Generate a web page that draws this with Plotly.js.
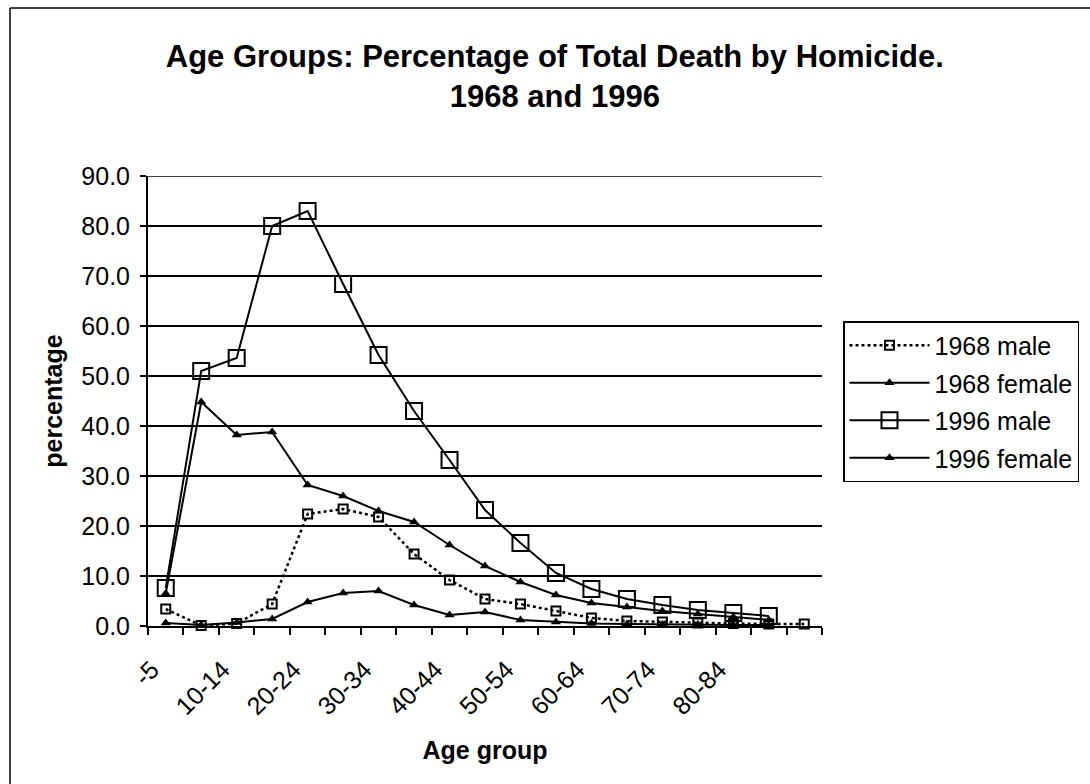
<!DOCTYPE html>
<html>
<head>
<meta charset="utf-8">
<script src="https://cdn.plot.ly/plotly-3.0.1.min.js"></script>
<style>html,body{margin:0;padding:0;background:#fff;}#chart{width:1090px;height:784px;}</style>
</head>
<body>
<div id="chart"></div>
<script>
var categories = ["-5","5-9","10-14","15-19","20-24","25-29","30-34","35-39","40-44","45-49","50-54","55-59","60-64","65-69","70-74","75-79","80-84","85-89","90+"];
var tickLabels = ["-5","","10-14","","20-24","","30-34","","40-44","","50-54","","60-64","","70-74","","80-84","",""];

var male1968   = [3.4, 0.1, 0.5, 4.4, 22.4, 23.4, 21.8, 14.4, 9.2, 5.4, 4.4, 3.0, 1.6, 1.0, 0.8, 0.6, 0.5, 0.4, 0.4];
var female1968 = [6.5, 44.8, 38.2, 38.8, 28.2, 26.0, 23.0, 20.8, 16.2, 12.0, 8.8, 6.2, 4.6, 3.8, 3.0, 2.4, 1.8, 1.2, null];
var male1996   = [7.6, 51.0, 53.6, 80.0, 83.0, 68.4, 54.2, 43.0, 33.2, 23.2, 16.6, 10.6, 7.4, 5.4, 4.2, 3.2, 2.6, 2.0, null];
var female1996 = [0.6, 0.2, 0.7, 1.4, 4.8, 6.6, 7.0, 4.2, 2.2, 2.8, 1.2, 0.8, 0.5, 0.4, 0.3, 0.3, 0.2, 0.2, null];

var traces = [
  {name:"1968 male", x:categories, y:male1968, type:"scatter", mode:"lines+markers", legendgroup:"a",
   line:{color:"#000", width:2.5, dash:"dot"}, marker:{symbol:"square-open", size:9, color:"#000", line:{width:2, color:"#000"}}, cliponaxis:false},
  {name:"1968 female", x:categories, y:female1968, type:"scatter", mode:"lines+markers", legendgroup:"b",
   line:{color:"#000", width:2}, marker:{symbol:"triangle-up", size:9, color:"#000"}, cliponaxis:false},
  {name:"1996 male", x:categories, y:male1996, type:"scatter", mode:"lines+markers", legendgroup:"c",
   line:{color:"#000", width:2}, marker:{symbol:"square-open", size:16, color:"#000", line:{width:2, color:"#000"}}, cliponaxis:false},
  {name:"1996 female", x:categories, y:female1996, type:"scatter", mode:"lines+markers", legendgroup:"d",
   line:{color:"#000", width:2}, marker:{symbol:"triangle-up", size:9, color:"#000"}, cliponaxis:false}
];

var layout = {
  width:1090, height:784,
  margin:{l:148, r:268, t:176, b:158},
  paper_bgcolor:"#fff", plot_bgcolor:"#fff",
  font:{family:"Liberation Sans, Arial, sans-serif", color:"#000"},
  title:{text:"<b>Age Groups: Percentage of Total Death by Homicide.<br>1968 and 1996</b>", font:{size:31, color:"#000"},
         x:0.509, xref:"container", xanchor:"center", y:0.915, yref:"container", yanchor:"top"},
  xaxis:{type:"category", categoryorder:"array", categoryarray:categories,
         tickmode:"array", tickvals:categories, ticktext:tickLabels, tickson:"boundaries",
         ticks:"outside", ticklen:7, tickwidth:2, tickcolor:"#000", tickangle:-45,
         ticklabelshift:-14, ticklabelstandoff:17,
         tickfont:{size:25}, showline:true, linecolor:"#000", linewidth:2, showgrid:false, zeroline:false,
         range:[-0.5, 18.5],
         title:{text:"<b>Age group</b>", font:{size:25}, standoff:22}},
  yaxis:{range:[0,90], dtick:10, tick0:0, tickformat:".1f", tickfont:{size:25},
         ticks:"outside", ticklen:6, tickwidth:2, tickcolor:"#000", ticklabelstandoff:5,
         showline:true, linecolor:"#000", linewidth:2, showgrid:true, gridcolor:"#000", gridwidth:1.5, zeroline:false,
         title:{text:"<b>percentage</b>", font:{size:25}, standoff:12}},
  legend:{x:843/1090, xref:"container", y:1-321/784, yref:"container", xanchor:"left", yanchor:"top",
          bordercolor:"#000", borderwidth:1.5, bgcolor:"#fff", font:{size:25}, tracegroupgap:2, itemwidth:80},
  shapes:[
    {type:"line", xref:"paper", yref:"y", x0:0, x1:1, y0:90, y1:90, line:{color:"#000", width:1.5}},
    {type:"line", xref:"paper", yref:"paper", x0:(10-148)/674, x1:(10-148)/674, y0:(626-8)/450, y1:(626-784)/450, line:{color:"#000", width:1.5}},
    {type:"line", xref:"paper", yref:"paper", x0:(10-148)/674, x1:(1090-148)/674, y0:(626-8)/450, y1:(626-8)/450, line:{color:"#000", width:1.5}}
  ],
  showlegend:true
};

Plotly.newPlot("chart", traces, layout, {displayModeBar:false, staticPlot:true});
</script>
</body>
</html>
